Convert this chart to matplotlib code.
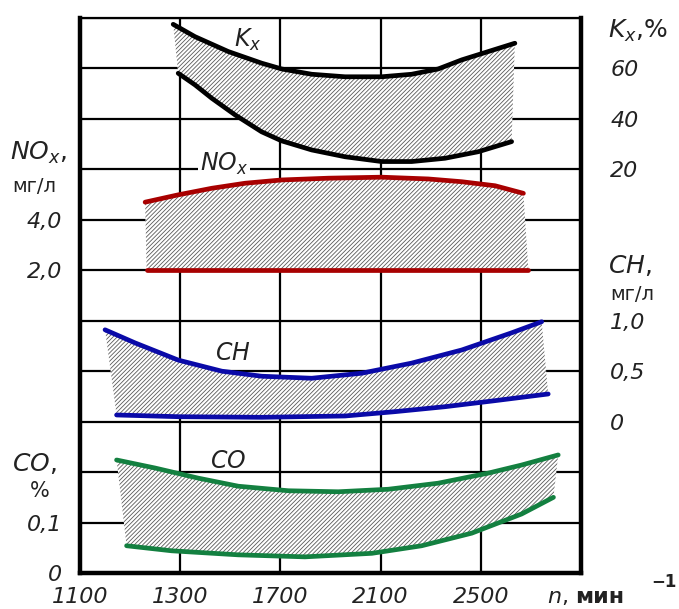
import numpy as np
import matplotlib
matplotlib.use("Agg")
import matplotlib.pyplot as plt

plt.rcParams["font.family"] = ["DejaVu Sans"]
plt.rcParams["mathtext.fontset"] = "dejavusans"
plt.rcParams["hatch.linewidth"] = 0.6

# Engine speed scale: labelled grid positions (rpm) drawn at equal spacing
rpm_grid = [1100, 1300, 1700, 2100, 2500, 2900]
rpm_tick_labels = ["1100", "1300", "1700", "2100", "2500"]

# Kx, % (smoke)
kx_upper_n = [1286, 1359, 1492, 1625, 1705, 1825, 1958, 2104, 2224, 2330, 2424, 2530, 2636]
kx_upper = [77.5, 72.6, 66.7, 62.1, 59.8, 57.7, 56.7, 56.7, 57.7, 59.8, 63.4, 66.7, 70.0]
kx_lower_n = [1296, 1359, 1426, 1519, 1625, 1705, 1825, 1958, 2104, 2224, 2357, 2490, 2623]
kx_lower = [58.1, 53.5, 48.2, 41.6, 34.9, 31.3, 27.7, 25.0, 23.1, 23.1, 24.4, 27.0, 31.0]

# NOx, mg/l
nox_upper_n = [1230, 1296, 1426, 1559, 1705, 1891, 2104, 2290, 2424, 2557, 2670]
nox_upper = [4.70, 4.99, 5.25, 5.45, 5.58, 5.65, 5.69, 5.62, 5.51, 5.35, 5.05]
nox_lower_n = [1233, 2690]
nox_lower = [2.0, 2.0]

# CH, mg/l
ch_upper_n = [1150, 1210, 1296, 1466, 1625, 1825, 2025, 2224, 2424, 2623, 2743]
ch_upper = [0.91, 0.78, 0.61, 0.50, 0.45, 0.43, 0.48, 0.58, 0.71, 0.88, 0.99]
ch_lower_n = [1173, 1296, 1625, 1958, 2158, 2357, 2557, 2769]
ch_lower = [0.066, 0.049, 0.043, 0.056, 0.099, 0.148, 0.208, 0.274]

# CO, %
co_upper_n = [1173, 1250, 1372, 1532, 1732, 1931, 2131, 2330, 2530, 2663, 2809]
co_upper = [0.224, 0.208, 0.188, 0.172, 0.163, 0.161, 0.166, 0.178, 0.198, 0.214, 0.234]
co_lower_n = [1193, 1283, 1532, 1798, 2065, 2264, 2464, 2663, 2790]
co_lower = [0.054, 0.044, 0.036, 0.032, 0.039, 0.054, 0.079, 0.117, 0.150]

W, H = 679, 609
fig = plt.figure(figsize=(W / 100, H / 100), dpi=100)
ax = fig.add_axes([80 / W, 1 - 573 / H, (581 - 80) / W, (573 - 18) / H])

pos = np.arange(len(rpm_grid), dtype=float)
fwd = lambda x: np.interp(x, rpm_grid, pos)
inv = lambda p: np.interp(p, pos, rpm_grid)
ax.set_xscale("function", functions=(fwd, inv))
ax.set_xlim(rpm_grid[0], rpm_grid[-1])
ax.set_ylim(0, 11)
ax.set_xticks(rpm_grid[:-1])
ax.set_xticklabels(rpm_tick_labels, fontsize=16, fontstyle="italic", color="#222222")
ax.set_yticks(np.arange(0, 12))
ax.set_yticklabels([])
ax.tick_params(axis="both", length=0)
ax.tick_params(axis="x", pad=10)
ax.grid(True, color="black", linewidth=1.6)
ax.set_axisbelow(True)
for side in ["left", "bottom", "right"]:
    ax.spines[side].set_linewidth(3.2)
ax.spines["top"].set_linewidth(1.6)

HATCH = "////////"
HATCH_COLOR = "#5a5a5a"


def band(tax, un, uv, ln, lv, color):
    xs = list(un) + list(ln)[::-1]
    ys = list(uv) + list(lv)[::-1]
    tax.fill(xs, ys, facecolor="white", edgecolor=HATCH_COLOR, linewidth=0,
             hatch=HATCH, zorder=2)
    kw = dict(color=color, linewidth=3.4, solid_capstyle="round",
              solid_joinstyle="round", zorder=3)
    tax.plot(un, uv, **kw)
    tax.plot(ln, lv, **kw)


def make_twin(ylim, ticks, labels, side, pad):
    t = ax.twinx()
    t.set_ylim(*ylim)
    for s in t.spines.values():
        s.set_visible(False)
    t.set_yticks(ticks)
    t.set_yticklabels(labels, fontsize=16, fontstyle="italic", color="#222222")
    t.yaxis.set_ticks_position(side)
    t.tick_params(axis="y", length=0, pad=pad)
    return t


ax_kx = make_twin((-140, 80), [20, 40, 60], ["20", "40", "60"], "right", 21)
ax_nox = make_twin((-10, 12), [2.0, 4.0], ["2,0", "4,0"], "left", 13)
ax_ch = make_twin((-1.5, 4.0), [0, 0.5, 1.0], ["0", "0,5", "1,0"], "right", 21)
ax_co = make_twin((0, 1.1), [0, 0.1], ["0", "0,1"], "left", 13)

band(ax_kx, kx_upper_n, kx_upper, kx_lower_n, kx_lower, "black")
band(ax_nox, nox_upper_n, nox_upper, nox_lower_n, nox_lower, "#a80000")
band(ax_ch, ch_upper_n, ch_upper, ch_lower_n, ch_lower, "#0a0aa8")
band(ax_co, co_upper_n, co_upper, co_lower_n, co_lower, "#138040")


def ftext(x, y, s, **kw):
    kw.setdefault("color", "#222222")
    kw.setdefault("va", "center")
    fig.text(x / W, 1 - y / H, s, **kw)


# curve names inside the plot
ftext(248, 40, r"$K_x$", fontsize=17, ha="center")
ftext(224, 164, r"$NO_x$", fontsize=17, ha="center",
      bbox=dict(facecolor="white", edgecolor="none", pad=1.5), zorder=5)
ftext(233, 353, r"$CH$", fontsize=17, ha="center")
ftext(228, 461, r"$CO$", fontsize=17, ha="center")

# axis titles
ftext(10, 153, r"$NO_x$,", fontsize=18, ha="left")
ftext(12, 186, "мг/л", fontsize=14, ha="left")
ftext(12, 463, r"$CO$,", fontsize=18, ha="left")
ftext(40, 491, "%", fontsize=15, ha="center")
ftext(608, 31, r"$K_x$,%", fontsize=18, ha="left")
ftext(608, 265, r"$CH$,", fontsize=18, ha="left")
ftext(610, 294, "мг/л", fontsize=14, ha="left")
ftext(547, 597, r"$n$,", fontsize=16, ha="left")
ftext(575, 597, "мин", fontsize=16, ha="left", fontweight="bold")
ftext(664, 582, "−1", fontsize=12, ha="center", fontweight="bold")

fig.savefig("out.png", dpi=100)
